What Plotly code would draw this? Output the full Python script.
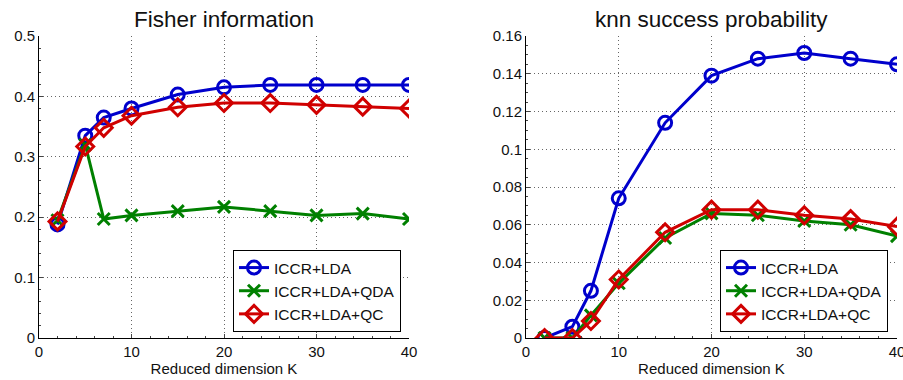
import plotly.graph_objects as go

K = [2, 5, 7, 10, 15, 20, 25, 30, 35, 40]

fisher_lda = [0.188, 0.335, 0.365, 0.380, 0.403, 0.415, 0.419, 0.419, 0.419, 0.419]
fisher_qda = [0.195, 0.320, 0.197, 0.203, 0.210, 0.217, 0.210, 0.203, 0.206, 0.197]
fisher_qc = [0.193, 0.317, 0.348, 0.368, 0.382, 0.389, 0.389, 0.386, 0.383, 0.380]

knn_lda = [0.0, 0.006, 0.025, 0.074, 0.114, 0.139, 0.148, 0.151, 0.148, 0.145]
knn_qda = [0.0, 0.0, 0.012, 0.029, 0.053, 0.066, 0.065, 0.062, 0.060, 0.054]
knn_qc = [0.0, 0.0, 0.009, 0.031, 0.056, 0.068, 0.068, 0.065, 0.063, 0.059]

names = ["ICCR+LDA", "ICCR+LDA+QDA", "ICCR+LDA+QC"]
colors = ["#0000cc", "#008000", "#d00000"]
symbols = ["circle-open", "x-thin-open", "diamond-open"]
sizes = [13, 12, 13]

FONT = "Liberation Sans, Arial, sans-serif"

fig = go.Figure()

series = [
    ("x", "y", "legend", [fisher_lda, fisher_qda, fisher_qc]),
    ("x2", "y2", "legend2", [knn_lda, knn_qda, knn_qc]),
]
for xa, ya, lg, data in series:
    for i, vals in enumerate(data):
        fig.add_trace(go.Scatter(
            x=K, y=vals, xaxis=xa, yaxis=ya, legend=lg,
            name=names[i], mode="lines+markers",
            line=dict(color=colors[i], width=3),
            marker=dict(symbol=symbols[i], size=sizes[i], color=colors[i],
                        line=dict(color=colors[i], width=3)),
        ))

GRID = dict(showgrid=True, gridcolor="#666", griddash="1px,3px", gridwidth=1)

def xaxis_cfg(domain, anchor):
    return dict(domain=domain, anchor=anchor, range=[0, 40], tickvals=[0, 10, 20, 30, 40],
                automargin=False, ticklabeloverflow="allow", **GRID,
                showline=True, linecolor="black", linewidth=1, ticks="inside", ticklen=4,
                tickfont=dict(size=15, color="#111", family=FONT), zeroline=False,
                minor=dict(ticks="inside", ticklen=2, dtick=2, showgrid=False),
                title=dict(text="Reduced dimension K", font=dict(size=15, color="#111", family=FONT), standoff=2))

def yaxis_cfg(domain, anchor, rng, dtick):
    return dict(domain=domain, anchor=anchor, range=rng, dtick=dtick,
                automargin=False, ticklabeloverflow="allow", **GRID,
                showline=True, linecolor="black", linewidth=1, ticks="inside", ticklen=4,
                tickfont=dict(size=15, color="#111", family=FONT), zeroline=False,
                minor=dict(ticks="inside", ticklen=2, nticks=5, showgrid=False))

yd = [1 - 338 / 380, 1 - 36 / 380]
LEGEND_FONT = dict(size=15.5, family=FONT, color="#111")
fig.update_layout(
    width=903, height=380, margin=dict(l=0, r=0, t=0, b=0),
    paper_bgcolor="white", plot_bgcolor="white",
    font=dict(family=FONT, color="#111"),
    xaxis=xaxis_cfg([39 / 903, 409 / 903], "y"),
    yaxis=yaxis_cfg(yd, "x", [0, 0.5], 0.1),
    xaxis2=xaxis_cfg([526 / 903, 897 / 903], "y2"),
    yaxis2=yaxis_cfg(yd, "x2", [0, 0.16], 0.02),
    legend=dict(x=401 / 903, xanchor="right", y=1 - 332 / 380, yanchor="bottom",
                bgcolor="white", bordercolor="black", borderwidth=1,
                font=LEGEND_FONT, tracegroupgap=0),
    legend2=dict(x=888 / 903, xanchor="right", y=1 - 332 / 380, yanchor="bottom",
                 bgcolor="white", bordercolor="black", borderwidth=1,
                 font=LEGEND_FONT, tracegroupgap=0),
    annotations=[
        dict(text="Fisher information", x=224 / 903, y=1 - 20 / 380, xref="paper", yref="paper",
             showarrow=False, font=dict(size=22.5, family=FONT, color="#111"), xanchor="center", yanchor="middle"),
        dict(text="knn success probability", x=711 / 903, y=1 - 20 / 380, xref="paper", yref="paper",
             showarrow=False, font=dict(size=22.5, family=FONT, color="#111"), xanchor="center", yanchor="middle"),
    ],
)

fig.write_html("out.html")
